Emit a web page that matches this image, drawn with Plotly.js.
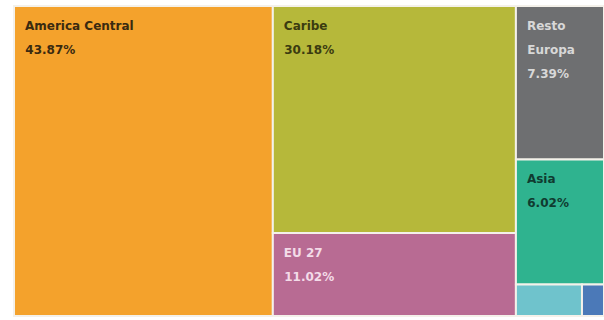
<!DOCTYPE html>
<html><head><meta charset="utf-8">
<script src="https://cdn.plot.ly/plotly-3.0.1.min.js"></script>
<style>html,body{margin:0;padding:0;background:#fff;}#c{width:604px;height:320px;}</style>
</head><body><div id="c"></div>
<script>
const regions = ["America Central","Caribe","EU 27","Resto Europa","Asia","Otros 1","Otros 2"];
const displayNames = ["America Central","Caribe","EU 27","Resto<br>Europa","Asia","",""];
const shares = [43.87,30.18,11.02,7.39,6.02,1.14,0.38];
const colors = ["#F4A22C","#B6B83A","#B86B93","#6E6F71","#2FB38F","#6FC3CC","#4B79B8"];
const textColors = ["#3a2a10","#3b3b10","#f3dbe8","#d8d8d8","#103b30","#000","#000"];

const first = s => '<span style="font-size:23px">\u00A0</span><span style="font-size:12px">' + s + '</span>';
const sp = s => '<span style="font-size:12px">\u00A0\u00A0' + s + '</span>';
const templates = displayNames.map(n => {
  if (!n) return "";
  const parts = n.split("<br>");
  return [first(parts[0])].concat(parts.slice(1).map(sp), [sp("%{value:.2f}%")]).join("<br>");
});

Plotly.newPlot("c",[{
  type:"treemap",
  labels:regions,
  parents:regions.map(()=>""),
  values:shares,
  sort:false,
  texttemplate:templates,
  textposition:"top left",
  hoverinfo:"none",
  marker:{colors:colors, line:{color:"#f4f1ea", width:2}, pad:{t:0,l:0,r:0,b:0}},
  tiling:{packing:"squarify", squarifyratio:1.618, pad:0},
  pathbar:{visible:false},
  textfont:{family:"DejaVu Sans", size:18.5, color:textColors, weight:"bold"}
}],{
  width:604,height:320,
  margin:{l:14,r:0,t:6,b:4},
  paper_bgcolor:"#ffffff",
  showlegend:false
},{displayModeBar:false,staticPlot:true});
</script></body></html>
